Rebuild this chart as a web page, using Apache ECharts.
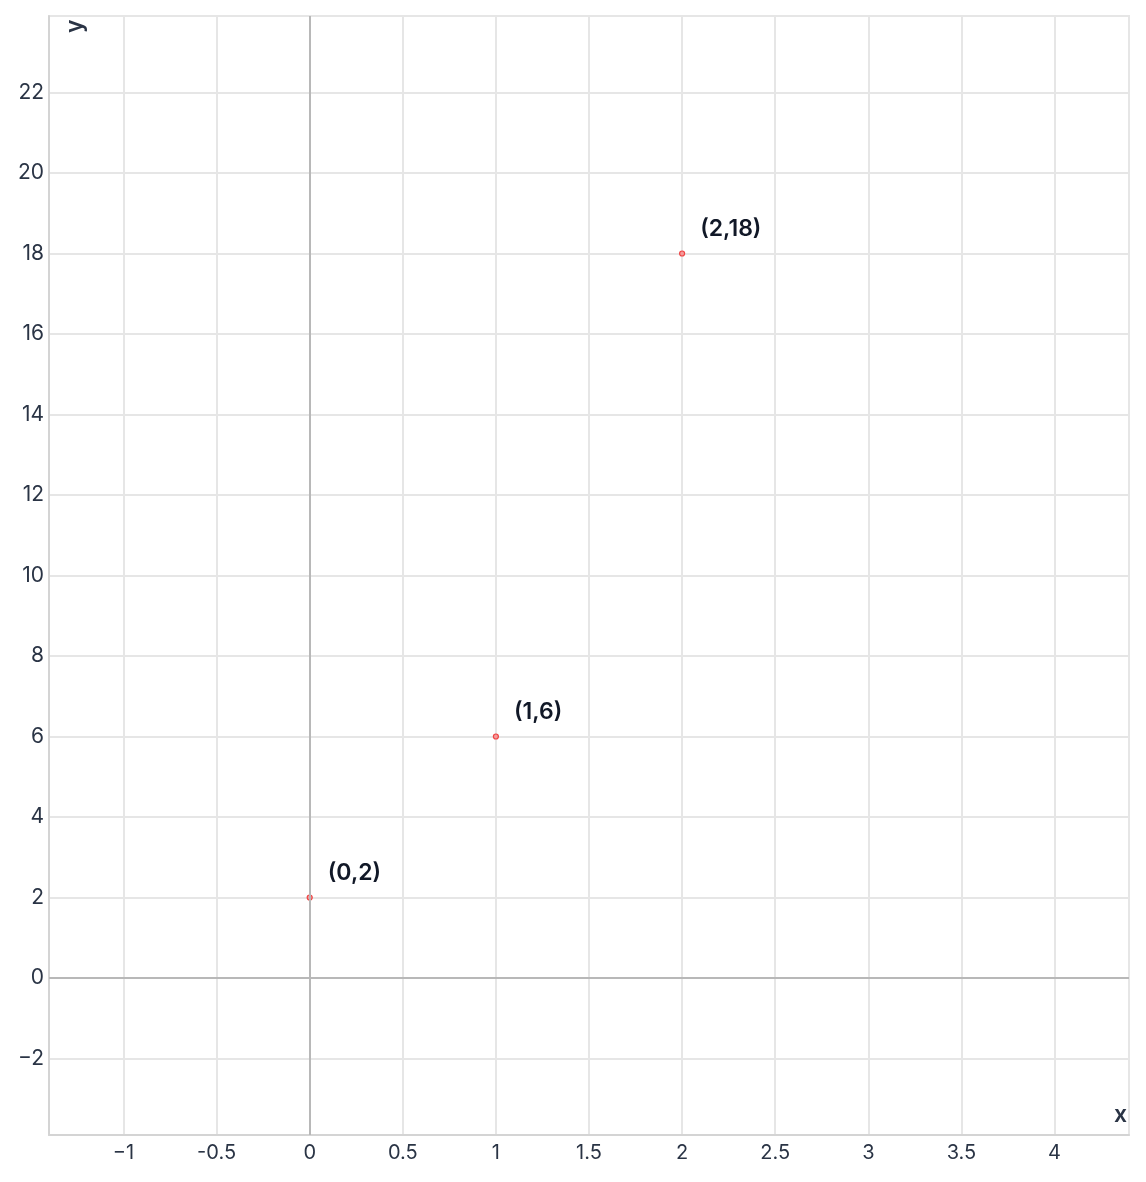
<!DOCTYPE html>
<html>
<head>
<meta charset="utf-8">
<script src="https://cdn.jsdelivr.net/npm/echarts@6/dist/echarts.min.js"></script>
<style>
  html, body { margin: 0; padding: 0; background: #fff; }
  #chart { width: 1146px; height: 1182px; }
</style>
</head>
<body>
<div id="chart"></div>
<script>
// data
var xValues = [0, 1, 2]
var yValues = [2, 6, 18]
var pointLabels = ['(0,2)', '(1,6)', '(2,18)']

var xTicks = [-1, -0.5, 0, 0.5, 1, 1.5, 2, 2.5, 3, 3.5, 4]
var yTicks = [-2, 0, 2, 4, 6, 8, 10, 12, 14, 16, 18, 20, 22]

var xRange = [-1.4, 4.4]
var yRange = [-3.9, 23.9]

var textColor = '#2a3445'
var font = 'Inter, "Noto Sans", sans-serif'

function tickFormat(v) {
  // integer negatives use a real minus sign, halves keep the hyphen
  if (v < 0 && Math.round(v) === v) return '\u2212' + Math.abs(v)
  return String(v)
}

var chart = echarts.init(document.getElementById('chart'))

chart.setOption({
  animation: false,
  grid: {
    left: 49,
    right: 17,
    top: 16,
    bottom: 47,
    show: true,
    borderColor: '#e6e6e6',
    borderWidth: 2
  },
  xAxis: {
    type: 'value',
    min: xRange[0],
    max: xRange[1],
    axisLine: { show: true, onZero: false, lineStyle: { color: '#d4d4d4', width: 2 } },
    axisTick: { show: false, customValues: xTicks },
    axisLabel: {
      customValues: xTicks,
      color: textColor,
      fontSize: 20,
      fontFamily: font,
      margin: 8,
      formatter: tickFormat
    },
    splitLine: { show: true, lineStyle: { color: '#e6e6e6', width: 2 } }
  },
  yAxis: {
    type: 'value',
    min: yRange[0],
    max: yRange[1],
    axisLine: { show: true, onZero: false, lineStyle: { color: '#d4d4d4', width: 2 } },
    axisTick: { show: false, customValues: yTicks },
    axisLabel: {
      customValues: yTicks,
      color: textColor,
      fontSize: 21,
      fontFamily: font,
      margin: 5,
      formatter: tickFormat
    },
    splitLine: { show: true, lineStyle: { color: '#e6e6e6', width: 2 } }
  },
  graphic: [
    {
      type: 'text',
      x: 1114,
      y: 1104,
      style: { text: 'x', fill: textColor, fontSize: 23, fontWeight: 600, fontFamily: font }
    },
    {
      type: 'text',
      x: 64,
      y: 33,
      rotation: Math.PI / 2,
      style: { text: 'y', fill: textColor, fontSize: 23, fontWeight: 600, fontFamily: font }
    }
  ],
  series: [{
    type: 'scatter',
    data: xValues.map(function (x, i) { return [x, yValues[i]] }),
    symbol: 'circle',
    symbolSize: 5,
    itemStyle: { color: '#f59b9b', borderColor: '#ef4444', borderWidth: 1.2, opacity: 1 },
    label: {
      show: true,
      position: 'right',
      distance: 15,
      offset: [0, -24],
      color: '#111827',
      opacity: 1,
      textBorderWidth: 0,
      fontSize: 23,
      fontWeight: 600,
      fontFamily: font,
      formatter: function (p) { return pointLabels[p.dataIndex] }
    },
    markLine: {
      silent: true,
      symbol: 'none',
      label: { show: false },
      lineStyle: { color: '#b8b8b8', width: 2, type: 'solid' },
      data: [{ xAxis: 0 }, { yAxis: 0 }]
    }
  }]
})
</script>
</body>
</html>
